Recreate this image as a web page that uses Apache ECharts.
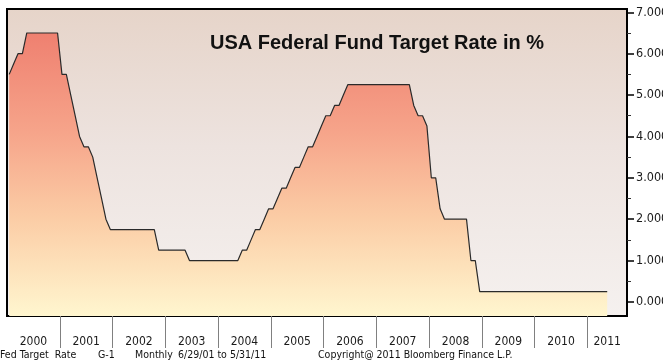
<!DOCTYPE html>
<html>
<head>
<meta charset="utf-8">
<script src="https://cdn.jsdelivr.net/npm/echarts@6/dist/echarts.min.js"></script>
<style>
html,body{margin:0;padding:0;background:#ffffff;}
#c{width:663px;height:362px;}
</style>
</head>
<body>
<div id="c"></div>
<script>
// Monthly Fed funds target rate (month-end), Jan 2000 - May 2011
var startYear = 2000;
var rates2000 = [5.5, 5.75, 6.0, 6.0, 6.5, 6.5, 6.5, 6.5, 6.5, 6.5, 6.5, 6.5];
var rates2001 = [5.5, 5.5, 5.0, 4.5, 4.0, 3.75, 3.75, 3.5, 3.0, 2.5, 2.0, 1.75];
var rates2002 = [1.75, 1.75, 1.75, 1.75, 1.75, 1.75, 1.75, 1.75, 1.75, 1.75, 1.25, 1.25];
var rates2003 = [1.25, 1.25, 1.25, 1.25, 1.25, 1.0, 1.0, 1.0, 1.0, 1.0, 1.0, 1.0];
var rates2004 = [1.0, 1.0, 1.0, 1.0, 1.0, 1.25, 1.25, 1.5, 1.75, 1.75, 2.0, 2.25];
var rates2005 = [2.25, 2.5, 2.75, 2.75, 3.0, 3.25, 3.25, 3.5, 3.75, 3.75, 4.0, 4.25];
var rates2006 = [4.5, 4.5, 4.75, 4.75, 5.0, 5.25, 5.25, 5.25, 5.25, 5.25, 5.25, 5.25];
var rates2007 = [5.25, 5.25, 5.25, 5.25, 5.25, 5.25, 5.25, 5.25, 4.75, 4.5, 4.5, 4.25];
var rates2008 = [3.0, 3.0, 2.25, 2.0, 2.0, 2.0, 2.0, 2.0, 2.0, 1.0, 1.0, 0.25];
var rates2009 = [0.25, 0.25, 0.25, 0.25, 0.25, 0.25, 0.25, 0.25, 0.25, 0.25, 0.25, 0.25];
var rates2010 = [0.25, 0.25, 0.25, 0.25, 0.25, 0.25, 0.25, 0.25, 0.25, 0.25, 0.25, 0.25];
var rates2011 = [0.25, 0.25, 0.25, 0.25, 0.25];

var yearLabels = ['2000','2001','2002','2003','2004','2005','2006','2007','2008','2009','2010','2011'];
var rateTicks = [0, 1, 2, 3, 4, 5, 6, 7];

var allRates = [].concat(rates2000, rates2001, rates2002, rates2003, rates2004, rates2005,
  rates2006, rates2007, rates2008, rates2009, rates2010, rates2011);
var seriesData = allRates.map(function (v, i) {
  return [startYear + (i + 0.5) / 12, v];
});

var yearBoundaries = yearLabels.slice(1).map(function (y) { return +y; });
var yearLabelPos = yearLabels.map(function (y, i) {
  return i === yearLabels.length - 1 ? +y + 0.375 : +y + 0.5;
});
var minorTicks = rateTicks.slice(0, -1).map(function (v) { return v + 0.5; });

var chart = echarts.init(document.getElementById('c'), null, {renderer: 'canvas'});
var font = '"DejaVu Sans Condensed", "DejaVu Sans", sans-serif';

chart.setOption({
  animation: false,
  backgroundColor: '#ffffff',
  grid: {
    left: 7, right: 36, top: 9, bottom: 46,
    containLabel: false,
    outerBoundsMode: 'none',
    show: true,
    borderColor: '#000000',
    borderWidth: 2,
    backgroundColor: new echarts.graphic.LinearGradient(0, 0, 0, 1, [
      {offset: 0, color: '#e6d4c9'},
      {offset: 0.45, color: '#ede3df'},
      {offset: 1, color: '#f5f1ef'}
    ])
  },
  xAxis: {
    type: 'value',
    min: 2000,
    max: 2011.75,
    axisLine: {show: true, onZero: false, lineStyle: {color: '#000', width: 1.5}},
    splitLine: {show: false},
    axisTick: {
      show: true,
      customValues: yearBoundaries,
      length: 32,
      lineStyle: {color: '#808080', width: 1}
    },
    axisLabel: {
      customValues: yearLabelPos,
      formatter: function (v) { return String(Math.floor(v)); },
      margin: 20,
      fontFamily: font,
      fontSize: 12,
      color: '#1a1a1a'
    }
  },
  yAxis: [{
    type: 'value',
    position: 'right',
    min: -0.34,
    max: 7.08,
    axisLine: {show: true, onZero: false, lineStyle: {color: '#000', width: 1.5}},
    splitLine: {show: false},
    axisTick: {
      show: true,
      customValues: rateTicks,
      length: 7,
      lineStyle: {color: '#000', width: 1.5}
    },
    axisLabel: {
      customValues: rateTicks,
      formatter: function (v) { return v.toFixed(3); },
      margin: 9,
      fontFamily: font,
      fontSize: 12.5,
      color: '#1a1a1a'
    }
  }, {
    type: 'value',
    position: 'right',
    min: -0.34,
    max: 7.08,
    axisLine: {show: false, onZero: false},
    splitLine: {show: false},
    axisTick: {
      show: true,
      customValues: minorTicks,
      length: 4,
      lineStyle: {color: '#333', width: 1}
    },
    axisLabel: {show: false}
  }],
  series: [{
    type: 'line',
    data: seriesData,
    yAxisIndex: 0,
    showSymbol: false,
    symbol: 'none',
    lineStyle: {color: '#2a2a2a', width: 1.2},
    areaStyle: {
      origin: 'start',
      opacity: 1,
      color: new echarts.graphic.LinearGradient(0, 0, 0, 1, [
        {offset: 0, color: '#ef8070'},
        {offset: 0.35, color: '#f6a48a'},
        {offset: 0.65, color: '#fbcca5'},
        {offset: 1, color: '#fff6cf'}
      ])
    }
  }],
  graphic: [
    {type: 'text', left: 210, top: 33, style: {text: 'USA Federal Fund Target Rate in %', font: 'bold 20px "Liberation Sans", Arial, sans-serif', fill: '#111'}},
    {type: 'text', left: 0, top: 350, style: {text: 'Fed Target  Rate', font: '10.5px ' + font, fill: '#111'}},
    {type: 'text', left: 98, top: 350, style: {text: 'G-1', font: '10.5px ' + font, fill: '#111'}},
    {type: 'text', left: 135, top: 350, style: {text: 'Monthly', font: '10.5px ' + font, fill: '#111'}},
    {type: 'text', left: 178, top: 350, style: {text: '6/29/01 to 5/31/11', font: '10.5px ' + font, fill: '#111'}},
    {type: 'text', left: 318, top: 350, style: {text: 'Copyright@ 2011 Bloomberg Finance L.P.', font: '10.5px ' + font, fill: '#111'}}
  ]
});
</script>
</body>
</html>
